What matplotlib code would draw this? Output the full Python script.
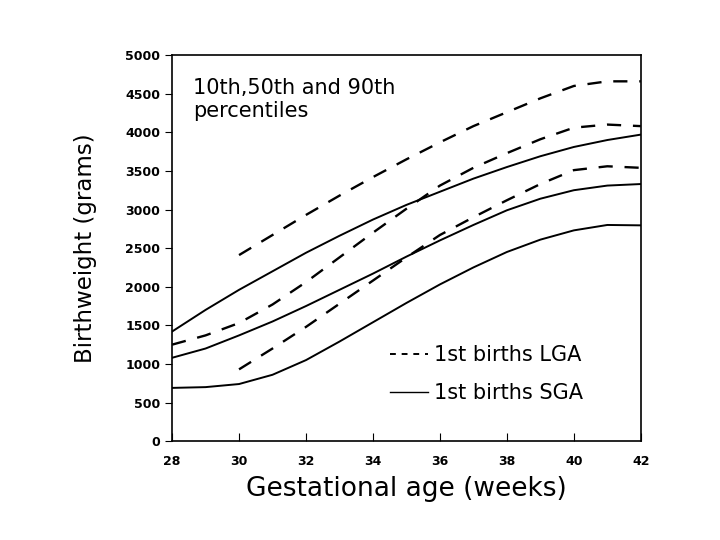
import numpy as np
import matplotlib
matplotlib.use("Agg")
import matplotlib.pyplot as plt
from matplotlib.lines import Line2D

weeks = np.arange(28, 43)
nan = np.nan

# 1st births SGA (solid): 10th, 50th, 90th percentiles
sga_10 = [690, 700, 740, 860, 1050, 1290, 1540, 1790, 2030, 2250, 2450, 2610, 2730, 2800, 2795]
sga_50 = [1080, 1200, 1370, 1550, 1750, 1960, 2170, 2390, 2600, 2800, 2990, 3140, 3250, 3310, 3330]
sga_90 = [1420, 1700, 1960, 2200, 2440, 2660, 2870, 3060, 3230, 3400, 3550, 3690, 3810, 3900, 3970]

# 1st births LGA (dashed)
lga_10 = [nan, nan, 930, 1200, 1480, 1780, 2080, 2380, 2670, 2900, 3120, 3330, 3510, 3560, 3540]
lga_50 = [1250, 1370, 1530, 1770, 2060, 2380, 2700, 3010, 3310, 3540, 3730, 3910, 4060, 4100, 4080]
lga_90 = [nan, nan, 2410, 2670, 2930, 3180, 3420, 3650, 3870, 4080, 4260, 4440, 4600, 4660, 4660]

xticks = np.arange(28, 43, 2)
yticks = np.arange(0, 5001, 500)

fig = plt.figure(figsize=(7.2, 5.4), dpi=100)
ax = fig.add_axes([0.239, 0.183, 0.651, 0.715])

for s in (sga_10, sga_50, sga_90):
    ax.plot(weeks, s, color="black", lw=1.4, ls="-")
for s in (lga_10, lga_50, lga_90):
    ax.plot(weeks, s, color="black", lw=1.7, ls=(0, (6, 5)))

ax.set_xlim(28, 42)
ax.set_ylim(0, 5000)
ax.set_xticks(xticks)
ax.set_yticks(yticks)
ax.tick_params(axis="x", direction="in", length=6, labelsize=9, pad=10)
ax.tick_params(axis="y", direction="out", length=5, labelsize=9)
for lab in ax.get_xticklabels() + ax.get_yticklabels():
    lab.set_fontweight("bold")
for sp in ax.spines.values():
    sp.set_linewidth(1.2)

ax.set_xlabel("Gestational age (weeks)", fontsize=19, labelpad=6)
ax.set_ylabel("Birthweight (grams)", fontsize=16.5, labelpad=20)

ax.text(0.045, 0.94, "10th,50th and 90th\npercentiles", transform=ax.transAxes,
        fontsize=15, va="top", ha="left", linespacing=1.15)

handles = [Line2D([], [], color="black", lw=1.4, ls=(0, (3, 3))),
           Line2D([], [], color="black", lw=1.0, ls="-")]
ax.legend(handles, ["1st births LGA", "1st births SGA"], frameon=False,
          loc="upper left", bbox_to_anchor=(0.465, 0.248), fontsize=15,
          handlelength=1.8, handletextpad=0.3, labelspacing=0.85,
          borderpad=0, borderaxespad=0)

fig.savefig("out.png", dpi=100)
